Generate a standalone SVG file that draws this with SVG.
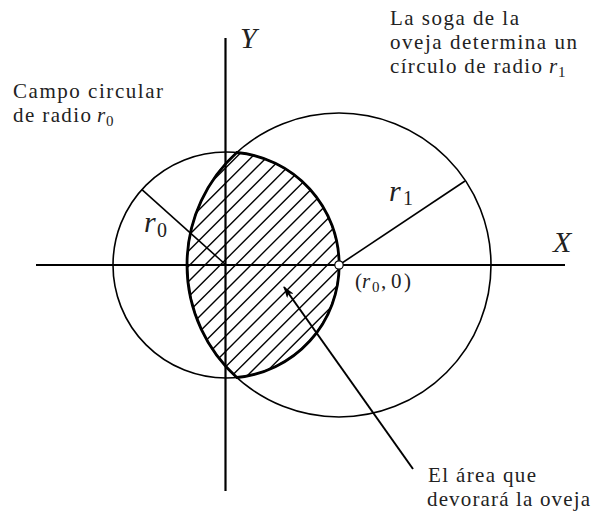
<svg xmlns="http://www.w3.org/2000/svg" width="596" height="513" viewBox="0 0 596 513">
<style>
.t{font-family:"Liberation Serif","DejaVu Serif",serif;font-size:21px;fill:#222}
.m{font-family:"Liberation Serif","DejaVu Serif",serif;font-style:italic;fill:#222}
.n{font-family:"Liberation Serif","DejaVu Serif",serif;fill:#222}
.thin{fill:none;stroke:#000;stroke-width:1.6}
.axis{fill:none;stroke:#000;stroke-width:2.2}
.hatch{stroke:#000;stroke-width:1.4}
</style>
<defs>
<clipPath id="lensClip">
<path d="M236.8 152.5 A152 152 0 0 0 236.8 377.5 A113 113 0 0 0 236.8 152.5 Z"/>
</clipPath>
<marker id="ah" viewBox="0 0 12 8" refX="11" refY="4" markerWidth="12" markerHeight="8" markerUnits="userSpaceOnUse" orient="auto">
<path d="M0 0 L12 4 L0 8 L3 4 Z" fill="#000"/>
</marker>
</defs>
<rect width="596" height="513" fill="#fff"/>
<g id="hatch-region" clip-path="url(#lensClip)">
<line class="hatch" x1="150" y1="243.5" x2="360" y2="33.5"/>
<line class="hatch" x1="150" y1="258.8" x2="360" y2="48.8"/>
<line class="hatch" x1="150" y1="274.1" x2="360" y2="64.1"/>
<line class="hatch" x1="150" y1="289.4" x2="360" y2="79.4"/>
<line class="hatch" x1="150" y1="304.7" x2="360" y2="94.7"/>
<line class="hatch" x1="150" y1="320" x2="360" y2="110"/>
<line class="hatch" x1="150" y1="335.3" x2="360" y2="125.3"/>
<line class="hatch" x1="150" y1="350.6" x2="360" y2="140.6"/>
<line class="hatch" x1="150" y1="365.9" x2="360" y2="155.9"/>
<line class="hatch" x1="150" y1="381.2" x2="360" y2="171.2"/>
<line class="hatch" x1="150" y1="396.5" x2="360" y2="186.5"/>
<line class="hatch" x1="150" y1="411.8" x2="360" y2="201.8"/>
<line class="hatch" x1="150" y1="427.1" x2="360" y2="217.1"/>
<line class="hatch" x1="150" y1="442.4" x2="360" y2="232.4"/>
<line class="hatch" x1="150" y1="457.7" x2="360" y2="247.7"/>
<line class="hatch" x1="150" y1="473" x2="360" y2="263"/>
<line class="hatch" x1="150" y1="488.3" x2="360" y2="278.3"/>
<line class="hatch" x1="150" y1="503.6" x2="360" y2="293.6"/>
</g>
<g id="field-circle">
<circle class="thin" cx="226" cy="265" r="113"/>
<line class="thin" x1="226" y1="265" x2="141.7" y2="189.3" stroke-width="1.2"/>
</g>
<g id="rope-circle">
<circle class="thin" cx="339" cy="265" r="152"/>
<line class="thin" x1="339" y1="265" x2="465" y2="181" stroke-width="1.2"/>
</g>
<g id="axes">
<line class="axis" x1="36" y1="265" x2="565" y2="265"/>
<line class="axis" x1="225.5" y1="38" x2="225.5" y2="491"/>
</g>
<g id="lens">
<path d="M236.8 152.5 A152 152 0 0 0 236.8 377.5 A113 113 0 0 0 236.8 152.5 Z" fill="none" stroke="#000" stroke-width="2.8"/>
</g>
<g id="point">
<circle cx="339" cy="265" r="4.2" fill="#fff" stroke="#000" stroke-width="1.2"/>
</g>
<g id="connectors">
<line x1="413" y1="469" x2="284" y2="287" stroke="#000" stroke-width="2" marker-end="url(#ah)"/>
</g>
<g id="labels">
<text class="m" x="240" y="48" font-size="30">Y</text>
<text class="m" x="553" y="252" font-size="30">X</text>
<text class="m" x="144" y="232" font-size="30">r</text>
<text class="n" x="157" y="237" font-size="20">0</text>
<text class="m" x="389" y="201" font-size="30">r</text>
<text class="n" x="403" y="205" font-size="20">1</text>
<text class="n" font-size="21" y="288"><tspan x="355">(</tspan><tspan class="m" x="362">r</tspan><tspan x="372" y="292" font-size="15">0</tspan><tspan x="381" y="288">,</tspan><tspan x="391">0</tspan><tspan x="404">)</tspan></text>
</g>
<g id="text-rope">
<text class="t" x="390" y="25" textLength="129" lengthAdjust="spacing">La soga de la</text>
<text class="t" x="390" y="49" textLength="187" lengthAdjust="spacing">oveja determina un</text>
<text class="t" x="390" y="73" textLength="152" lengthAdjust="spacing">círculo de radio</text>
<text class="m" x="549" y="73" font-size="21">r</text>
<text class="n" x="558" y="77" font-size="15">1</text>
</g>
<g id="text-field">
<text class="t" x="13" y="98" textLength="150" lengthAdjust="spacing">Campo circular</text>
<text class="t" x="13" y="122" textLength="78" lengthAdjust="spacing">de radio</text>
<text class="m" x="97" y="122" font-size="21">r</text>
<text class="n" x="106" y="126" font-size="15">0</text>
</g>
<g id="text-area">
<text class="t" x="428" y="482" textLength="108" lengthAdjust="spacing">El área que</text>
<text class="t" x="427" y="506" textLength="163" lengthAdjust="spacing">devorará la oveja</text>
</g>
</svg>
